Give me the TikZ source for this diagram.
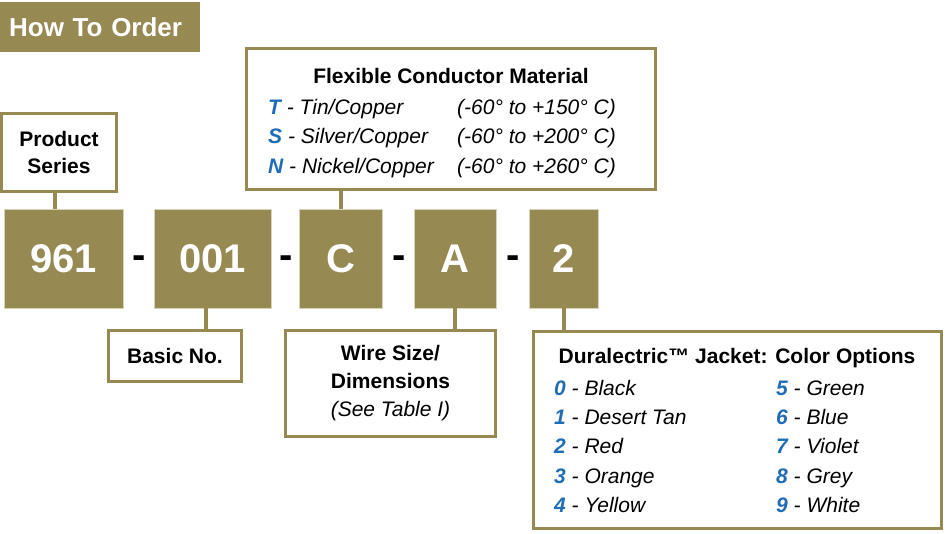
\documentclass[tikz,border=0pt]{standalone}
\usepackage{fontspec}
\setmainfont{Liberation Sans}
\definecolor{HTOolive}{HTML}{968952}
\definecolor{HTOblue}{HTML}{1E6DB6}
\definecolor{HTOedge}{HTML}{D9D3BA}

\tikzset{
  codebox/.style={fill=HTOolive, draw=HTOedge, line width=0.6pt, text=white,
    font=\fontsize{40}{48}\selectfont\bfseries, inner sep=0pt, minimum height=99pt},
  codedash/.style={font=\fontsize{40}{48}\selectfont\bfseries, inner sep=0pt},
  labelbox/.style={draw=HTOolive, line width=3.4pt, fill=white, align=center,
    font=\fontsize{21}{27}\selectfont\bfseries, inner sep=0pt},
  boxtitle/.style={anchor=base, inner sep=0pt, font=\fontsize{21}{26}\selectfont\bfseries},
  opt/.style={anchor=base west, inner sep=0pt, font=\fontsize{21}{26}\selectfont\itshape},
  conn/.style={draw=HTOolive, line width=4pt},
}
\newcommand{\optkey}[1]{{\bfseries\color{HTOblue}#1}}

\begin{document}
\begin{tikzpicture}[x=1pt, y=-1pt]
  \useasboundingbox (0,0) rectangle (948,533);

  % Kopfzeile
  \node[fill=HTOolive, text=white, font=\fontsize{26}{30}\selectfont\bfseries,
    anchor=west, text width=182pt, align=left, inner xsep=9pt, inner ysep=0pt,
    minimum height=50pt] (head) at (0,27) {How To Order};

  % Bestellschluessel
  \node[codebox, minimum width=119pt] (c961) at (63.5,258.5) {961};
  \node[codedash] (d1) at (139,262) {-};
  \node[codebox, minimum width=117pt] (c001) at (212.5,258.5) {001};
  \node[codedash] (d2) at (286,262) {-};
  \node[codebox, minimum width=83pt] (cC) at (340.5,258.5) {C};
  \node[codedash] (d3) at (399,262) {-};
  \node[codebox, minimum width=82pt] (cA) at (455,258.5) {A};
  \node[codedash] (d4) at (513,262) {-};
  \node[codebox, minimum width=69pt] (c2) at (563.5,258.5) {2};

  % Erlaeuterungen
  \node[labelbox, minimum width=114.6pt, minimum height=77.6pt] (ps) at (59,152.5) {Product\\Series};
  \node[labelbox, minimum width=408.6pt, minimum height=140.6pt] (fcm) at (451,119) {};
  \node[labelbox, minimum width=132.6pt, minimum height=50.6pt] (basic) at (175,356) {Basic No.};
  \node[labelbox, minimum width=209.6pt, minimum height=105.6pt, font=\fontsize{21}{28}\selectfont\bfseries]
    (wire) at (390.5,383.5) {Wire Size/\\Dimensions\\{\mdseries\itshape (See Table I)}};
  \node[labelbox, minimum width=407.6pt, minimum height=196.6pt] (dur) at (737.5,430) {};

  % Verbindungen
  \draw[conn] ([xshift=-4pt]ps.south) -- ([xshift=-4pt]ps.south |- c961.north);
  \draw[conn] (cC.north) -- (cC.north |- fcm.south);
  \draw[conn] ([xshift=-7pt]c001.south) -- ([xshift=-7pt]c001.south |- basic.north);
  \draw[conn] (cA.south) -- (cA.south |- wire.north);
  \draw[conn] (c2.south) -- (c2.south |- dur.north);

  % Leitermaterial
  \node[boxtitle] (fcmtitle) at (451,83) {Flexible Conductor Material};
  \node[opt] (matT) at (268,114) {\optkey{T} - Tin/Copper};
  \node[opt] (tmpT) at (457,114) {(-60° to +150° C)};
  \node[opt] (matS) at (268,143) {\optkey{S} - Silver/Copper};
  \node[opt] (tmpS) at (457,143) {(-60° to +200° C)};
  \node[opt] (matN) at (268,173) {\optkey{N} - Nickel/Copper};
  \node[opt] (tmpN) at (457,173) {(-60° to +260° C)};

  % Mantelfarben
  \node[boxtitle] (durtitle) at (737,363) {Duralectric™ Jacket: Color Options};
  \node[opt] (col0) at (554,395) {\optkey{0} - Black};
  \node[opt] (col1) at (554,424) {\optkey{1} - Desert Tan};
  \node[opt] (col2) at (554,453) {\optkey{2} - Red};
  \node[opt] (col3) at (554,483) {\optkey{3} - Orange};
  \node[opt] (col4) at (554,512) {\optkey{4} - Yellow};
  \node[opt] (col5) at (776,395) {\optkey{5} - Green};
  \node[opt] (col6) at (776,424) {\optkey{6} - Blue};
  \node[opt] (col7) at (776,453) {\optkey{7} - Violet};
  \node[opt] (col8) at (776,483) {\optkey{8} - Grey};
  \node[opt] (col9) at (776,512) {\optkey{9} - White};
\end{tikzpicture}
\end{document}
